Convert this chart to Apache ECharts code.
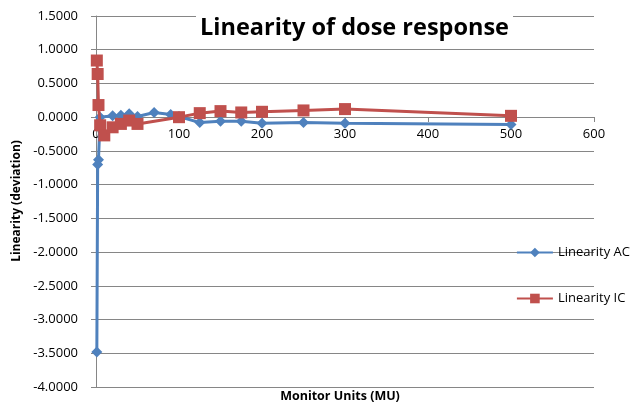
<!DOCTYPE html>
<html>
<head>
<meta charset="utf-8">
<script src="https://cdn.jsdelivr.net/npm/echarts@6/dist/echarts.min.js"></script>
<style>
  html, body { margin: 0; padding: 0; background: #fff; }
</style>
</head>
<body>
<div id="main" style="width: 635px;height:407px;"></div>
<script>
// monitor units and deviations
const acMU = [1, 2, 3, 5, 20, 30, 40, 50, 70, 90, 100, 125, 150, 175, 200, 250, 300, 500]
const acDev = [-3.48, -0.70, -0.63, 0.00, 0.02, 0.03, 0.05, 0.01, 0.07, 0.04, 0.01, -0.08, -0.06, -0.06, -0.09, -0.08, -0.09, -0.11]
const icMU = [1, 2, 3, 5, 10, 20, 30, 40, 50, 100, 125, 150, 175, 200, 250, 300, 500]
const icDev = [0.84, 0.64, 0.18, -0.12, -0.27, -0.15, -0.10, -0.05, -0.10, 0.00, 0.06, 0.09, 0.07, 0.08, 0.10, 0.12, 0.02]
const seriesNames = ['Linearity AC', 'Linearity IC']

let myChart = echarts.init(document.getElementById('main'))
let font = "'Open Sans', sans-serif"

// grid box
let gridTop = 16
let gridBottom = 20
let plotH = 407 - gridTop - gridBottom
// x axis sits on y = 0 (range -4 .. 1.5)
let zeroOffset = -Math.round(plotH * 4 / 5.5)

function pairs (xs, ys) {
  return xs.map(function (x, i) {
    return [x, ys[i]]
  })
}

let option = {
  animation: false,
  textStyle: { fontFamily: font },
  title: {
    text: 'Linearity of dose response',
    left: 196,
    top: 14,
    padding: [2, 4],
    backgroundColor: '#fff',
    textStyle: { fontFamily: font, fontSize: 23.5, fontWeight: 'bold', color: '#000' }
  },
  legend: {
    orient: 'vertical',
    right: 0,
    top: 241,
    itemGap: 33,
    itemWidth: 36,
    itemHeight: 12,
    data: seriesNames,
    textStyle: { fontFamily: font, fontSize: 13, color: '#000' }
  },
  grid: { left: 96, right: 41, top: gridTop, bottom: gridBottom },
  xAxis: {
    type: 'value',
    min: 0,
    max: 600,
    interval: 100,
    position: 'bottom',
    offset: zeroOffset,
    axisLine: { onZero: false, lineStyle: { color: '#868686' } },
    axisTick: { show: true, length: 5, lineStyle: { color: '#868686' } },
    axisLabel: { margin: 11, fontFamily: font, fontSize: 13, color: '#000' },
    splitLine: { show: false }
  },
  yAxis: {
    type: 'value',
    min: -4,
    max: 1.5,
    interval: 0.5,
    axisLine: { show: true, onZero: false, lineStyle: { color: '#868686' } },
    axisTick: { show: true, length: 5, lineStyle: { color: '#868686' } },
    axisLabel: {
      margin: 18,
      fontFamily: font,
      fontSize: 13,
      color: '#000',
      formatter: function (v) { return v.toFixed(4) }
    },
    splitLine: { lineStyle: { color: '#868686', width: 1 } }
  },
  graphic: [
    {
      type: 'text',
      x: 340,
      y: 396,
      style: {
        text: 'Monitor Units (MU)',
        font: 'bold 12.5px ' + font,
        fill: '#000',
        align: 'center',
        verticalAlign: 'middle'
      }
    },
    {
      type: 'text',
      x: 17,
      y: 201,
      rotation: Math.PI / 2,
      style: {
        text: 'Linearity (deviation)',
        font: 'bold 12px ' + font,
        fill: '#000',
        align: 'center',
        verticalAlign: 'middle'
      }
    }
  ],
  series: [
    {
      name: seriesNames[0],
      type: 'line',
      data: pairs(acMU, acDev),
      symbol: 'diamond',
      symbolSize: 11,
      lineStyle: { width: 3, color: '#4F81BD' },
      itemStyle: { color: '#4F81BD' },
      z: 3
    },
    {
      name: seriesNames[1],
      type: 'line',
      data: pairs(icMU, icDev),
      symbol: 'rect',
      symbolSize: 12,
      lineStyle: { width: 3, color: '#C0504D' },
      itemStyle: { color: '#C0504D' },
      z: 4
    }
  ]
}
myChart.setOption(option, true)
</script>
</body>
</html>
